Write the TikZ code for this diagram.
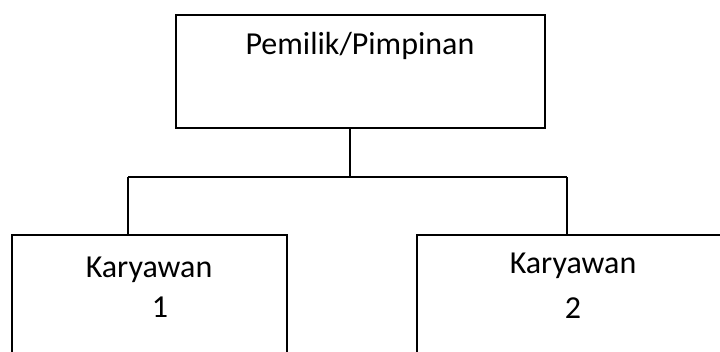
\documentclass[tikz,border=0pt]{standalone}
\usepackage{fontspec}
\setmainfont{Carlito}
\begin{document}
\begin{tikzpicture}[x=1pt,y=-1pt,
  box/.style={draw=black,line width=1.5pt,rectangle,inner sep=0pt,anchor=north west},
  lbl/.style={anchor=base,inner sep=0pt,font=\fontsize{32}{38}\selectfont},
  conn/.style={draw=black,line width=1.5pt}]
\useasboundingbox (0,0) rectangle (720,351);
\clip (0,0) rectangle (720,351);
\node[box,minimum width=369pt,minimum height=113pt] (top) at (175,14) {};
\node[box,minimum width=275pt,minimum height=160pt] (k1) at (11,234) {};
\node[box,minimum width=500pt,minimum height=160pt] (k2) at (416,234) {};
\node[lbl] (t0) at (360,54) {Pemilik/Pimpinan};
\node[lbl] (t1a) at (149,277) {Karyawan};
\node[lbl] (t1b) at (160,317) {1};
\node[lbl] (t2a) at (573,273) {Karyawan};
\node[lbl] (t2b) at (573,318) {2};
\coordinate (j) at (350,177);
\coordinate (jl) at (128,177);
\coordinate (jr) at (567,177);
\draw[conn] (top.south -| j) -- (j);
\draw[conn] (jl) -- (jr);
\draw[conn] (jl) -- (jl |- k1.north);
\draw[conn] (jr) -- (jr |- k2.north);
\end{tikzpicture}
\end{document}
